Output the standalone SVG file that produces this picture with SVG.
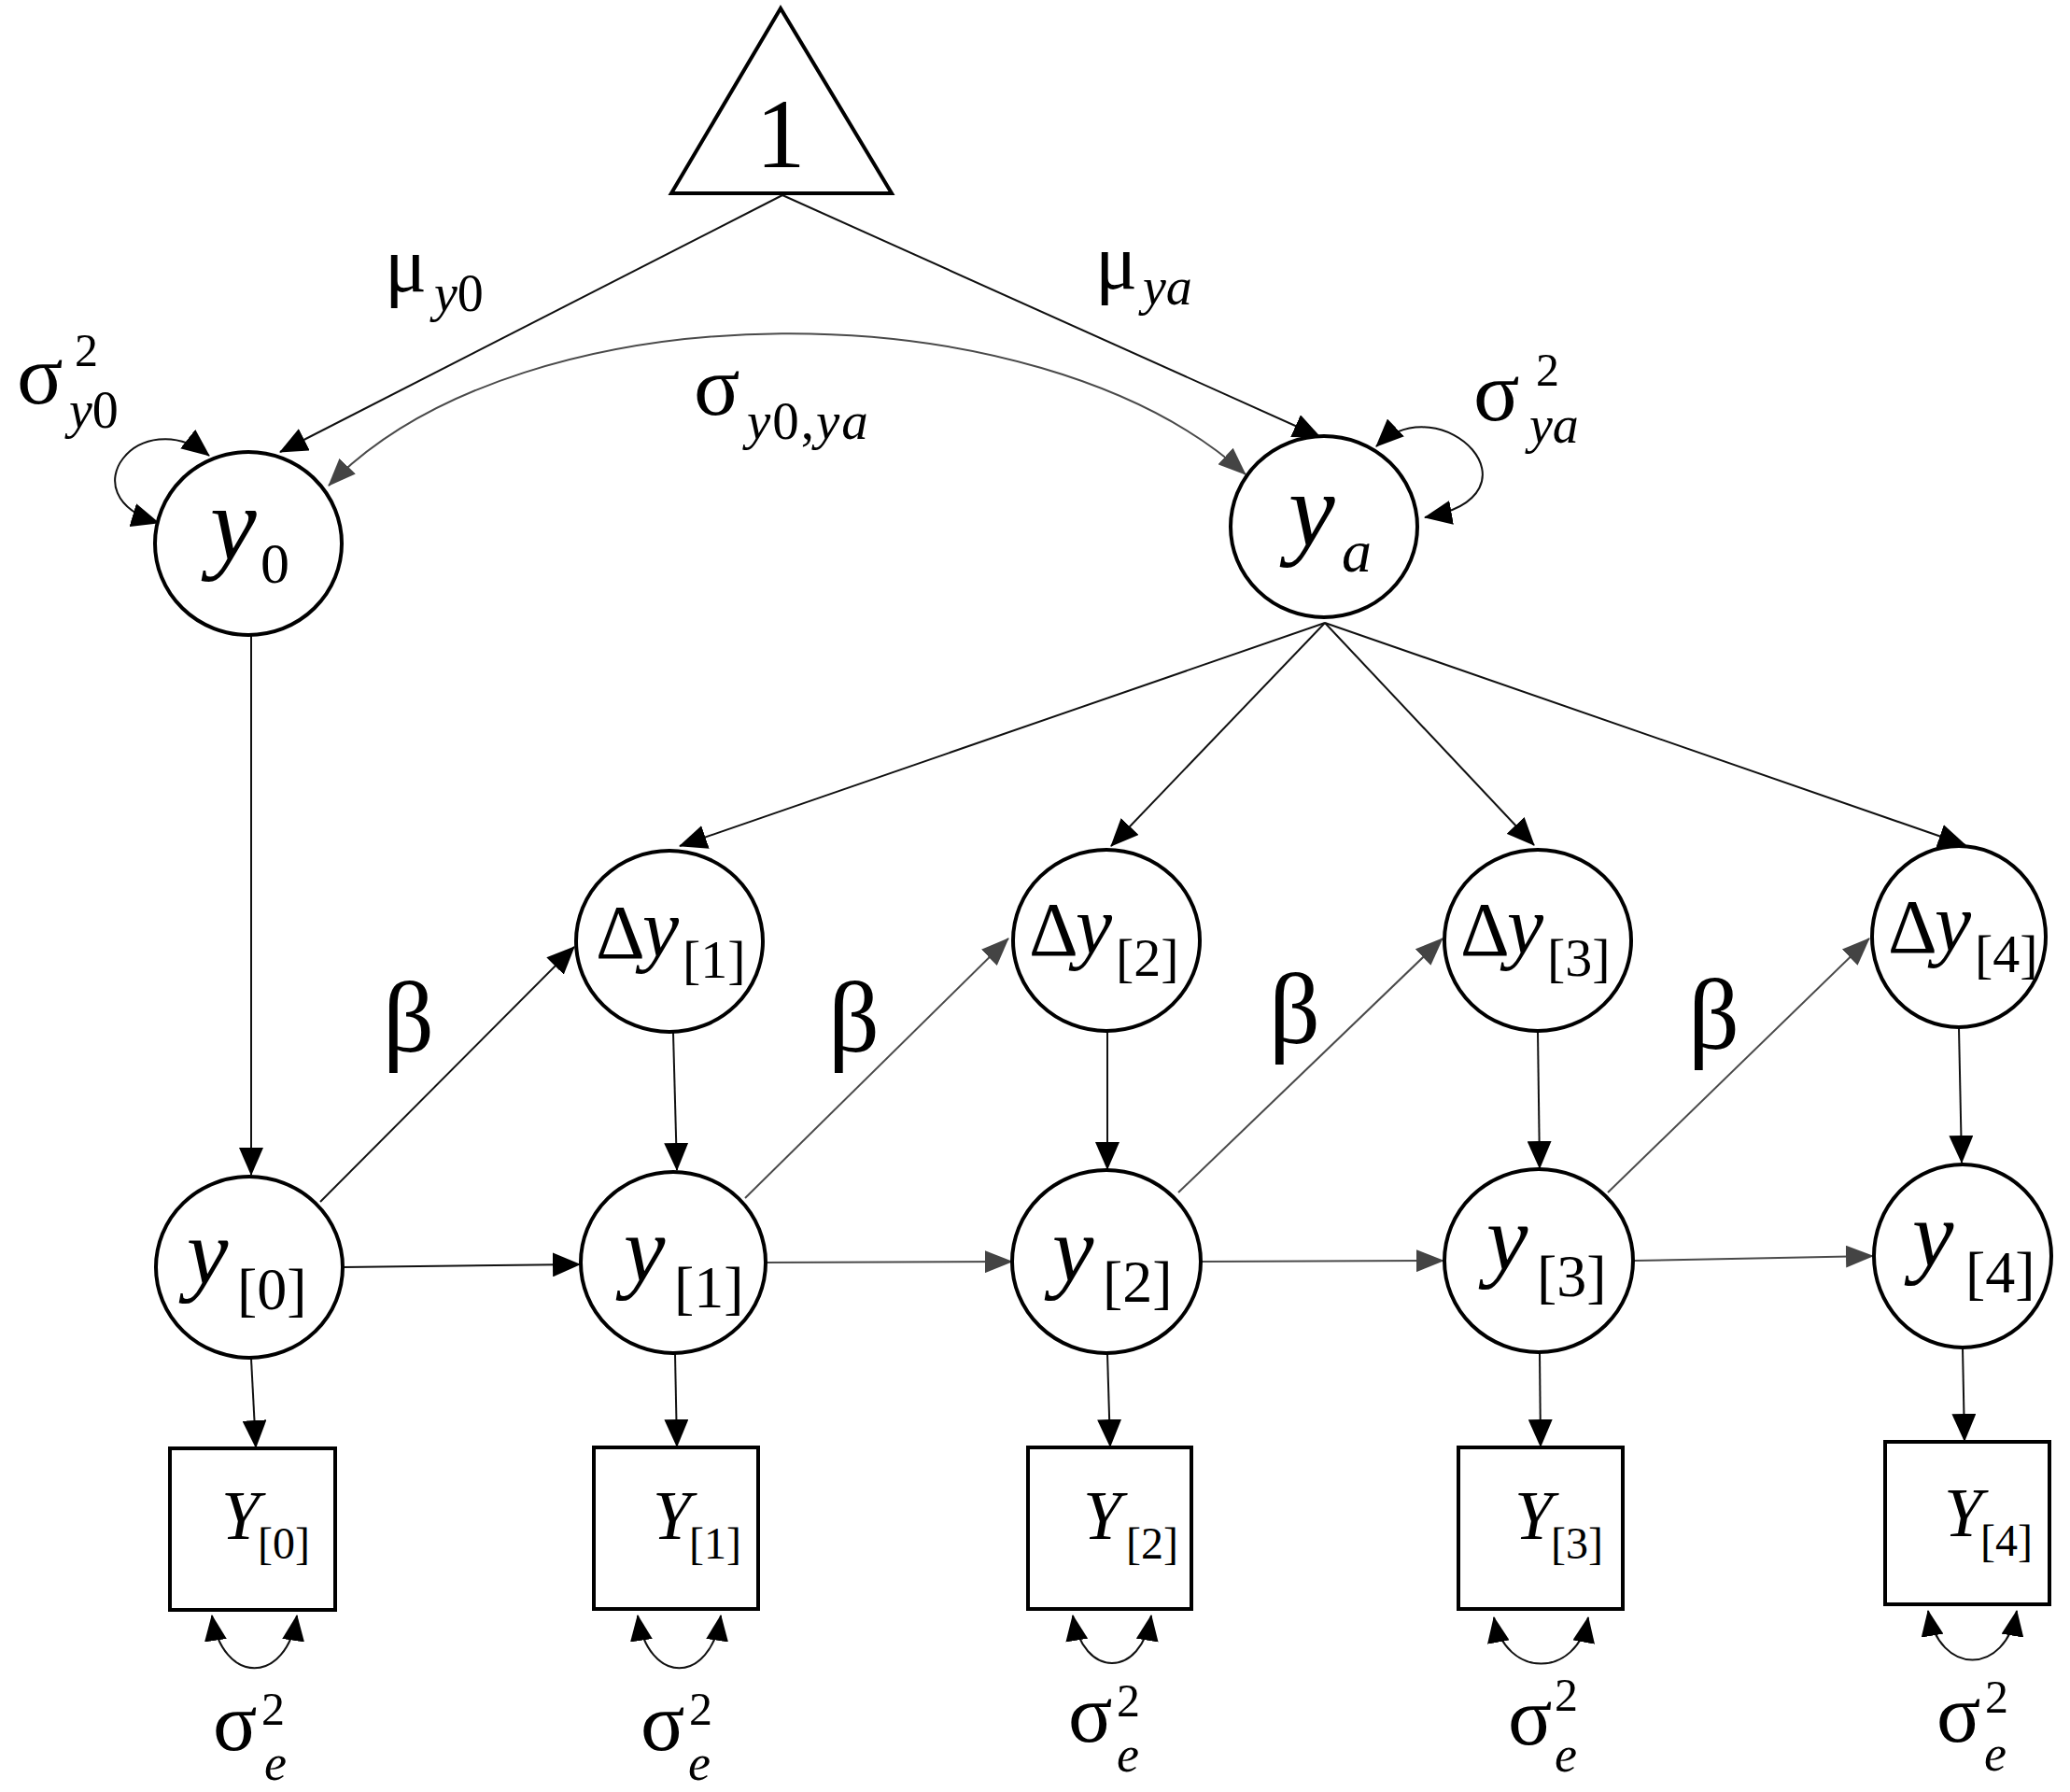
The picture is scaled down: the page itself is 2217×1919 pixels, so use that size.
<svg xmlns="http://www.w3.org/2000/svg" width="2217" height="1919" viewBox="0 0 2217 1919">
<style>
.t{font-family:'Liberation Serif','Times New Roman',serif;fill:#000}
.i{font-style:italic}
.nd{fill:#fff;stroke:#000;stroke-width:4}
.c{fill:none;stroke:#111;stroke-width:2;marker-end:url(#ah)}
.g{fill:none;stroke:#4a4a4a;stroke-width:2;marker-end:url(#ahg)}
.lp{fill:none;stroke:#111;stroke-width:2;marker-start:url(#ah);marker-end:url(#ah)}
.vr{fill:none;stroke:#111;stroke-width:2;marker-start:url(#ahs);marker-end:url(#ahs)}
</style>
<defs>
<marker id="ah" markerUnits="userSpaceOnUse" markerWidth="30" markerHeight="26" refX="29" refY="13" orient="auto-start-reverse" viewBox="0 0 30 26"><path d="M0,0 L30,13 L0,26 Z" fill="#000"/></marker>
<marker id="ahg" markerUnits="userSpaceOnUse" markerWidth="30" markerHeight="24" refX="29" refY="12" orient="auto-start-reverse" viewBox="0 0 30 24"><path d="M0,0 L30,12 L0,24 Z" fill="#444"/></marker>
<marker id="ahs" markerUnits="userSpaceOnUse" markerWidth="28" markerHeight="24" refX="27" refY="12" orient="auto-start-reverse" viewBox="0 0 28 24"><path d="M0,0 L28,12 L0,24 Z" fill="#000"/></marker>
</defs>
<rect width="2217" height="1919" fill="#fff"/>

<g id="connectors">
<line class="c" x1="838" y1="209" x2="300" y2="484"/>
<line class="c" x1="838" y1="209" x2="1414" y2="468"/>
<path class="g" d="M352 520 C560 305 1110 305 1334 508" style="marker-start:url(#ahg)"/>
<path class="lp" d="M224 488 C150 430 70 530 170 560"/>
<path class="lp" d="M1474 478 C1545 410 1660 530 1526 554"/>
<line class="c" x1="1419" y1="667" x2="728" y2="906"/>
<line class="c" x1="1419" y1="667" x2="1190" y2="906"/>
<line class="c" x1="1419" y1="667" x2="1643" y2="905"/>
<line class="c" x1="1419" y1="667" x2="2105" y2="905"/>
<line class="c" x1="269" y1="680" x2="269" y2="1258"/>
<line class="c" x1="721" y1="1106" x2="725" y2="1253"/>
<line class="c" x1="1186" y1="1105" x2="1186" y2="1252"/>
<line class="c" x1="1647" y1="1105" x2="1649" y2="1251"/>
<line class="c" x1="2098" y1="1101" x2="2101" y2="1245"/>
<line class="c" x1="343" y1="1287" x2="615" y2="1014"/>
<line class="g" x1="798" y1="1283" x2="1080" y2="1005"/>
<line class="g" x1="1262" y1="1277" x2="1545" y2="1005"/>
<line class="g" x1="1722" y1="1277" x2="2002" y2="1005"/>
<line class="c" x1="367" y1="1357" x2="621" y2="1354"/>
<line class="g" x1="819" y1="1352" x2="1084" y2="1351"/>
<line class="g" x1="1286" y1="1351" x2="1546" y2="1350"/>
<line class="g" x1="1750" y1="1350" x2="2006" y2="1345"/>
<line class="c" x1="269" y1="1455" x2="274" y2="1550"/>
<line class="c" x1="723" y1="1450" x2="725" y2="1549"/>
<line class="c" x1="1186" y1="1449" x2="1189" y2="1549"/>
<line class="c" x1="1649" y1="1448" x2="1650" y2="1549"/>
<line class="c" x1="2102" y1="1443" x2="2104" y2="1543"/>
<path class="vr" d="M227 1730 C238 1805 307 1805 318 1730"/>
<path class="vr" d="M683 1730 C694 1805 761 1805 772 1730"/>
<path class="vr" d="M1149 1730 C1160 1798 1222 1798 1233 1730"/>
<path class="vr" d="M1600 1732 C1612 1798 1689 1798 1701 1732"/>
<path class="vr" d="M2065 1725 C2077 1795 2148 1795 2160 1725"/>
</g>

<g id="n-one">
<polygon points="836,9 719,207 955,207" fill="#fff" stroke="#000" stroke-width="4"/>
<text class="t" x="836" y="179" font-size="106" text-anchor="middle">1</text>
</g>

<g id="lbl-mu">
<text class="t" x="412" y="312" font-size="84">μ</text>
<text class="t" x="465" y="333" font-size="56"><tspan class="i">y</tspan>0</text>
<text class="t" x="1173" y="309" font-size="84">μ</text>
<text class="t i" x="1224" y="326" font-size="56">ya</text>
</g>

<g id="lbl-var">
<text class="t" x="18" y="432" font-size="92">σ</text>
<text class="t" x="80" y="392" font-size="50">2</text>
<text class="t" x="74" y="458" font-size="56"><tspan class="i">y</tspan>0</text>
<text class="t" x="743" y="444" font-size="92">σ</text>
<text class="t" x="800" y="470" font-size="57" letter-spacing="2"><tspan class="i">y</tspan>0,<tspan class="i">ya</tspan></text>
<text class="t" x="1578" y="450" font-size="92">σ</text>
<text class="t" x="1645" y="413" font-size="50">2</text>
<text class="t i" x="1638" y="474" font-size="56">ya</text>
</g>

<g id="n-y0">
<ellipse class="nd" cx="266" cy="582" rx="100" ry="98"/>
<text class="t i" x="225" y="599" font-size="112">y</text>
<text class="t" x="279" y="624" font-size="62">0</text>
</g>
<g id="n-ya">
<ellipse class="nd" cx="1418" cy="564" rx="100" ry="97"/>
<text class="t i" x="1380" y="584" font-size="112">y</text>
<text class="t i" x="1437" y="612" font-size="64">a</text>
</g>

<g id="n-dy1">
<ellipse class="nd" cx="717" cy="1008" rx="100" ry="97"/>
<text class="t" x="638" y="1026" font-size="82">Δ</text>
<text class="t i" x="688" y="1024" font-size="88">y</text>
<text class="t" x="731" y="1047" font-size="58">[1]</text>
</g>
<g id="n-dy2">
<ellipse class="nd" cx="1185" cy="1007" rx="100" ry="97"/>
<text class="t" x="1102" y="1023" font-size="82">Δ</text>
<text class="t i" x="1152" y="1021" font-size="88">y</text>
<text class="t" x="1195" y="1045" font-size="58">[2]</text>
</g>
<g id="n-dy3">
<ellipse class="nd" cx="1647" cy="1007" rx="100" ry="97"/>
<text class="t" x="1564" y="1023" font-size="82">Δ</text>
<text class="t i" x="1614" y="1021" font-size="88">y</text>
<text class="t" x="1657" y="1045" font-size="58">[3]</text>
</g>
<g id="n-dy4">
<ellipse class="nd" cx="2098" cy="1003" rx="93" ry="97"/>
<text class="t" x="2022" y="1020" font-size="82">Δ</text>
<text class="t i" x="2072" y="1018" font-size="88">y</text>
<text class="t" x="2115" y="1041" font-size="58">[4]</text>
</g>

<g id="n-y_0">
<ellipse class="nd" cx="267" cy="1357" rx="100" ry="97"/>
<text class="t i" x="200" y="1375" font-size="100">y</text>
<text class="t" x="254" y="1402" font-size="64">[0]</text>
</g>
<g id="n-y_1">
<ellipse class="nd" cx="721" cy="1352" rx="99" ry="97"/>
<text class="t i" x="668" y="1372" font-size="100">y</text>
<text class="t" x="722" y="1400" font-size="64">[1]</text>
</g>
<g id="n-y_2">
<ellipse class="nd" cx="1185" cy="1351" rx="101" ry="98"/>
<text class="t i" x="1127" y="1372" font-size="100">y</text>
<text class="t" x="1181" y="1394" font-size="64">[2]</text>
</g>
<g id="n-y_3">
<ellipse class="nd" cx="1648" cy="1350" rx="101" ry="98"/>
<text class="t i" x="1592" y="1360" font-size="100">y</text>
<text class="t" x="1646" y="1388" font-size="64">[3]</text>
</g>
<g id="n-y_4">
<ellipse class="nd" cx="2102" cy="1345" rx="95" ry="98"/>
<text class="t i" x="2048" y="1356" font-size="100">y</text>
<text class="t" x="2105" y="1384" font-size="64">[4]</text>
</g>

<g id="n-Y0">
<rect class="nd" x="182" y="1551" width="177" height="173"/>
<text class="t i" x="237" y="1648" font-size="74">Y</text>
<text class="t" x="276" y="1669" font-size="48">[0]</text>
</g>
<g id="n-Y1">
<rect class="nd" x="636" y="1550" width="176" height="173"/>
<text class="t i" x="699" y="1648" font-size="74">Y</text>
<text class="t" x="738" y="1669" font-size="48">[1]</text>
</g>
<g id="n-Y2">
<rect class="nd" x="1101" y="1550" width="175" height="173"/>
<text class="t i" x="1160" y="1648" font-size="74">Y</text>
<text class="t" x="1206" y="1669" font-size="48">[2]</text>
</g>
<g id="n-Y3">
<rect class="nd" x="1562" y="1550" width="176" height="173"/>
<text class="t i" x="1622" y="1648" font-size="74">Y</text>
<text class="t" x="1661" y="1669" font-size="48">[3]</text>
</g>
<g id="n-Y4">
<rect class="nd" x="2019" y="1544" width="176" height="174"/>
<text class="t i" x="2082" y="1645" font-size="74">Y</text>
<text class="t" x="2121" y="1666" font-size="48">[4]</text>
</g>

<g id="lbl-beta">
<text class="t" x="410" y="1126" font-size="108">β</text>
<text class="t" x="887" y="1126" font-size="108">β</text>
<text class="t" x="1359" y="1117" font-size="108">β</text>
<text class="t" x="1808" y="1123" font-size="108">β</text>
</g>

<g id="lbl-err">
<text class="t" x="228" y="1874" font-size="88">σ</text><text class="t" x="280" y="1847" font-size="50">2</text><text class="t i" x="283" y="1906" font-size="54">e</text>
<text class="t" x="686" y="1874" font-size="88">σ</text><text class="t" x="738" y="1847" font-size="50">2</text><text class="t i" x="737" y="1906" font-size="54">e</text>
<text class="t" x="1144" y="1865" font-size="88">σ</text><text class="t" x="1196" y="1838" font-size="50">2</text><text class="t i" x="1196" y="1897" font-size="54">e</text>
<text class="t" x="1615" y="1868" font-size="88">σ</text><text class="t" x="1665" y="1832" font-size="50">2</text><text class="t i" x="1665" y="1897" font-size="54">e</text>
<text class="t" x="2074" y="1865" font-size="88">σ</text><text class="t" x="2126" y="1834" font-size="50">2</text><text class="t i" x="2125" y="1896" font-size="54">e</text>
</g>
</svg>
